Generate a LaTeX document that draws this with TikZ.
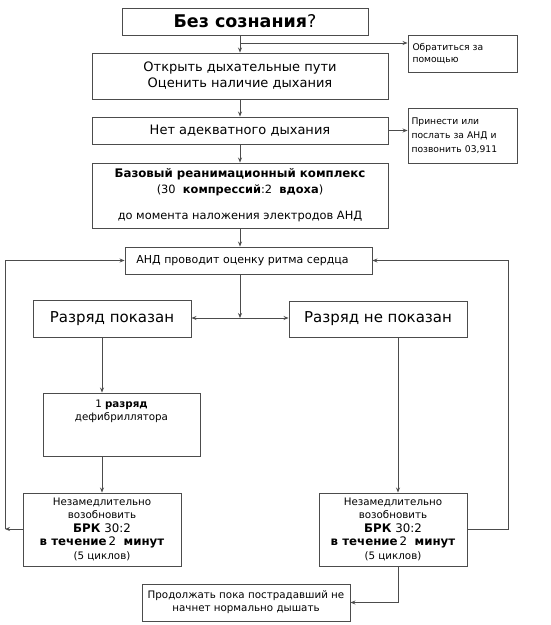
\documentclass[tikz,border=0pt]{standalone}
\usepackage{fontspec}
\setmainfont{DejaVu Sans}
\usepackage{tikz}
\usetikzlibrary{positioning, arrows.meta, calc}

\definecolor{ln}{gray}{0.3}
\newcommand{\fsz}[1]{\fontsize{#1}{#1}\selectfont}

\begin{document}
\begin{tikzpicture}[x=1pt, y=-1pt, >={Stealth[length=5pt, width=4pt]},
  box/.style={draw=ln, line width=0.9pt, align=center, inner sep=2pt},
  link/.style={draw=ln, line width=0.8pt}]
  \useasboundingbox (0,0) rectangle (550,625);

  \node[box, minimum width=246pt, minimum height=27pt, font=\fsz{17.5}] (nocons) at (245,21.5) {\textbf{Без сознания}?};
  \node[box, minimum width=109pt, minimum height=37pt, text width=100pt, align=left, font=\fsz{9.2}] (help) at (462.5,53.5) {Обратиться за\\[2pt]помощью};
  \node[box, minimum width=296pt, minimum height=46pt, font=\fsz{13}] (airway) at (240,76) {Открыть дыхательные пути\\[3pt]Оценить наличие дыхания};
  \node[box, minimum width=296pt, minimum height=27pt, font=\fsz{13}] (noair) at (240,130.5) {Нет адекватного дыхания};
  \node[box, minimum width=109pt, minimum height=55pt, text width=102pt, align=left, font=\fsz{9.2}] (aed) at (462.5,135.5) {Принести или\\[4.5pt]послать за АНД и\\[4.5pt]позвонить 03,911\\[14pt]};
  \node[box, minimum width=296pt, minimum height=65pt, font=\fsz{11.4}] (cpr) at (240,195.5)
    {{\fsz{11.8}\textbf{Базовый реанимационный комплекс}}\\[4pt](30\ \ \textbf{компрессий}:2\ \ \textbf{вдоха})\\[15pt]до момента наложения электродов АНД};
  \node[box, minimum width=247pt, minimum height=27pt, font=\fsz{11}] (rhythm) at (248.5,260.5) {АНД проводит оценку ритма сердца\hspace*{12pt}};
  \node[box, minimum width=158pt, minimum height=37pt, font=\fsz{15}] (shock) at (112,318.5) {Разряд показан};
  \node[box, minimum width=178pt, minimum height=36pt, font=\fsz{15}] (noshock) at (378,319) {Разряд не показан};
  \node[box, minimum width=157pt, minimum height=63pt, font=\fsz{10.3}] (defib) at (121.5,424.5) {1 \textbf{разряд}\\[3pt]дефибриллятора\\[18pt]};
  \node[box, minimum width=158pt, minimum height=73pt, font=\fsz{10.3}] (cprL) at (102,529.5)
    {Незамедлительно\\[3pt]возобновить\\[3pt]{\fsz{11.8}\textbf{БРК} 30:2}\\[3pt]{\fsz{11.8}\textbf{в течение}\,2\ \ \textbf{минут}}\\[3pt](5 циклов)};
  \node[box, minimum width=148pt, minimum height=73pt, font=\fsz{10.3}] (cprR) at (393,529.5)
    {Незамедлительно\\[3pt]возобновить\\[3pt]{\fsz{11.8}\textbf{БРК} 30:2}\\[3pt]{\fsz{11.8}\textbf{в течение}\,2\ \ \textbf{минут}}\\[3pt](5 циклов)};
  \node[box, minimum width=208pt, minimum height=37pt, font=\fsz{10.3}] (cont) at (246,602.5) {Продолжать пока пострадавший не\\[3pt]начнет нормально дышать};

  \coordinate (fork) at (240,43);
  \coordinate (j) at (240,318);
  \coordinate (lft) at (5,529);
  \coordinate (rgt) at (508,529);
  \coordinate (rx) at (398,0);

  % top column
  \draw[link, ->] (airway.north |- nocons.south) -- (airway.north);
  \draw[link, ->] (fork) -- (help.west |- fork);
  \draw[link, ->] (airway) -- (noair);
  \draw[link, ->] (noair.east) -- (aed.west |- noair.east);
  \draw[link, ->] (noair) -- (cpr);
  \draw[link, ->] (cpr.south) -- (cpr.south |- rhythm.north);

  % split
  \draw[link, ->] (rhythm.south -| j) -- (j);
  \draw[link, ->] (j) -- (shock.east |- j);
  \draw[link, ->] (j) -- (noshock.west |- j);

  % left branch
  \draw[link, ->] (shock.south -| cprL.north) -- (cprL.north |- defib.north);
  \draw[link, ->] (defib.south -| cprL.north) -- (cprL.north);
  \draw[link, ->] (cprL.west |- lft) -- (lft);
  \draw[link, ->] (lft) |- (rhythm.west);

  % right branch
  \draw[link, ->] (noshock.south -| rx) -- (cprR.north -| rx);
  \draw[link, ->] (cprR.east |- rgt) -- (rgt) |- (rhythm.east);
  \draw[link, ->] (cprR.south -| rx) |- (cont.east);
\end{tikzpicture}
\end{document}
